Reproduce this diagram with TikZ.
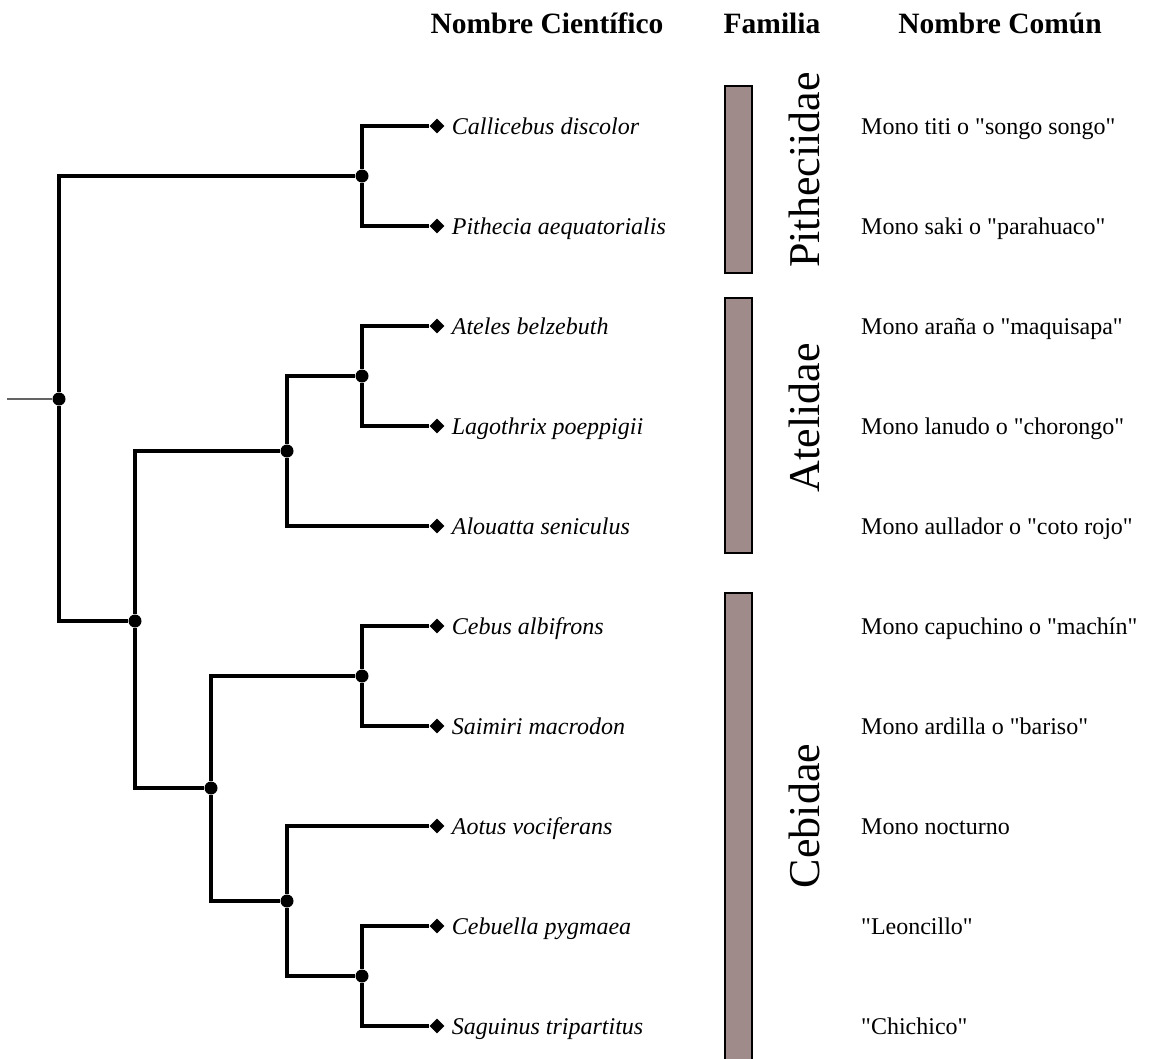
\documentclass[tikz,border=0pt]{standalone}
\usepackage{fontspec}
\setmainfont{Liberation Serif}
\usetikzlibrary{shapes.geometric, positioning}
\definecolor{FamBar}{RGB}{160,139,139}
\definecolor{RootGray}{RGB}{100,100,100}
\newcommand{\qtd}[1]{\textquotedbl#1\textquotedbl}

\begin{document}
\begin{tikzpicture}[x=1pt, y=-1pt,
  branch/.style={draw=black, line width=3.4pt},
  rootline/.style={draw=RootGray, line width=1.3pt},
  dot/.style={circle, fill=black, inner sep=0pt, minimum size=13pt},
  tip/.style={diamond, fill=black, inner sep=0pt, minimum width=15pt, minimum height=15pt},
  species/.style={font=\fontsize{24}{28}\selectfont\itshape, inner sep=0pt,
                  text height=20pt, text depth=4pt},
  common/.style={font=\fontsize{24}{28}\selectfont, anchor=west, inner sep=0pt,
                 text height=20pt, text depth=4pt},
  head/.style={font=\fontsize{29.5}{34}\selectfont\bfseries, anchor=base, inner sep=0pt},
  fambar/.style={draw=black, line width=2pt, fill=FamBar},
  famlabel/.style={font=\fontsize{44}{50}\selectfont, rotate=90, anchor=base, inner sep=0pt},
]
\useasboundingbox (0,0) rectangle (1151,1058);

% column headers
\node[head] (hsci) at (547,33) {Nombre Científico};
\node[head] (hfam) at (772,33) {Familia};
\node[head] (hcom) at (1000,33) {Nombre Común};

% tips
\node[tip] (d1) at (437,126) {};
\node[tip] (d2) at (437,226) {};
\node[tip] (d3) at (437,326) {};
\node[tip] (d4) at (437,426) {};
\node[tip] (d5) at (437,526) {};
\node[tip] (d6) at (437,626) {};
\node[tip] (d7) at (437,726) {};
\node[tip] (d8) at (437,826) {};
\node[tip] (d9) at (437,926) {};
\node[tip] (d10) at (437,1026) {};

\node[species, right=7pt of d1] (s1) {Callicebus discolor};
\node[species, right=7pt of d2] (s2) {Pithecia aequatorialis};
\node[species, right=7pt of d3] (s3) {Ateles belzebuth};
\node[species, right=7pt of d4] (s4) {Lagothrix poeppigii};
\node[species, right=7pt of d5] (s5) {Alouatta seniculus};
\node[species, right=7pt of d6] (s6) {Cebus albifrons};
\node[species, right=7pt of d7] (s7) {Saimiri macrodon};
\node[species, right=7pt of d8] (s8) {Aotus vociferans};
\node[species, right=7pt of d9] (s9) {Cebuella pygmaea};
\node[species, right=7pt of d10] (s10) {Saguinus tripartitus};

% internal nodes
\node[dot] (pith) at (362,176) {};
\node[dot] (atbl) at (362,376) {};
\node[dot] (atel) at (287,451) {};
\node[dot] (cesa) at (362,676) {};
\node[dot] (cesg) at (362,976) {};
\node[dot] (aoce) at (287,901) {};
\node[dot] (cebi) at (211,788) {};
\node[dot] (ance) at (135,621) {};
\node[dot] (root) at (59,399) {};
\coordinate (stem) at (7,399);

\draw[rootline] (stem) -- (root);
\draw[branch] (root) |- (pith);
\draw[branch] (root) |- (ance);
\draw[branch] (pith) |- (d1);
\draw[branch] (pith) |- (d2);
\draw[branch] (ance) |- (atel);
\draw[branch] (ance) |- (cebi);
\draw[branch] (atel) |- (atbl);
\draw[branch] (atel) |- (d5);
\draw[branch] (atbl) |- (d3);
\draw[branch] (atbl) |- (d4);
\draw[branch] (cebi) |- (cesa);
\draw[branch] (cebi) |- (aoce);
\draw[branch] (cesa) |- (d6);
\draw[branch] (cesa) |- (d7);
\draw[branch] (aoce) |- (d8);
\draw[branch] (aoce) |- (cesg);
\draw[branch] (cesg) |- (d9);
\draw[branch] (cesg) |- (d10);

% families
\draw[fambar] (725,86) rectangle (752,273);
\draw[fambar] (725,298) rectangle (752,553);
\draw[fambar] (725,593) rectangle (752,1066);
\node[famlabel] (fpith) at (819,170) {Pitheciidae};
\node[famlabel] (fatel) at (819,418) {Atelidae};
\node[famlabel] (fcebi) at (819,816) {Cebidae};

% common names
\node[common] (c1) at (861,126) {Mono titi o \qtd{songo songo}};
\node[common] (c2) at (861,226) {Mono saki o \qtd{parahuaco}};
\node[common] (c3) at (861,326) {Mono araña o \qtd{maquisapa}};
\node[common] (c4) at (861,426) {Mono lanudo o \qtd{chorongo}};
\node[common] (c5) at (861,526) {Mono aullador o \qtd{coto rojo}};
\node[common] (c6) at (861,626) {Mono capuchino o \qtd{machín}};
\node[common] (c7) at (861,726) {Mono ardilla o \qtd{bariso}};
\node[common] (c8) at (861,826) {Mono nocturno};
\node[common] (c9) at (861,926) {\qtd{Leoncillo}};
\node[common] (c10) at (861,1026) {\qtd{Chichico}};
\end{tikzpicture}
\end{document}
